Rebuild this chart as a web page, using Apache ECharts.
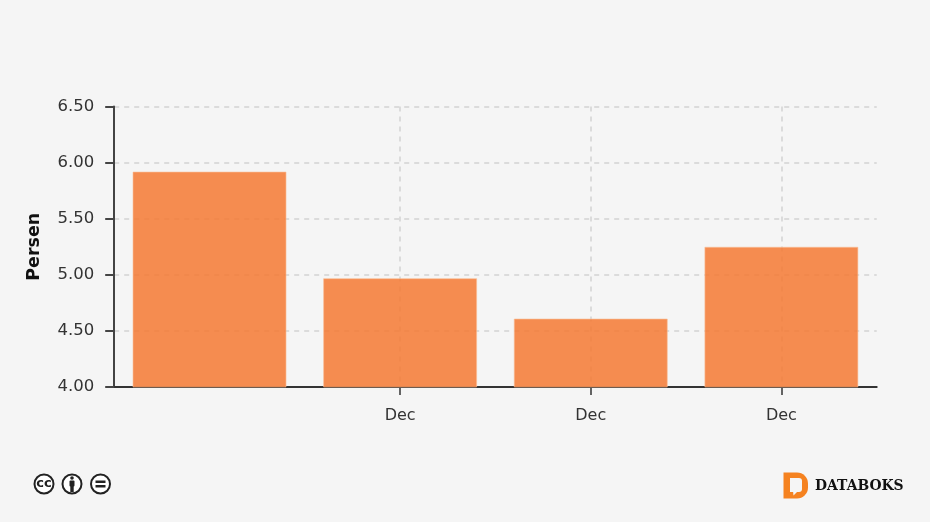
<!DOCTYPE html>
<html><head><meta charset="utf-8">
<style>html,body{margin:0;padding:0;background:#f5f5f5}#c{width:930px;height:522px}</style>
<script src="https://cdn.jsdelivr.net/npm/echarts@6/dist/echarts.min.js"></script>
</head><body><div id="c"></div>
<script>
const categories = ['', 'Dec', 'Dec', 'Dec'];
const values = [5.92, 4.97, 4.61, 5.25];
const yTicks = { min: 4, max: 6.5, interval: 0.5 };
const yName = 'Persen';
const brand = 'DATABOKS';

const dark = '#444444';
const shown = (i) => categories[i] !== '';
const chart = echarts.init(document.getElementById('c'), null, { renderer: 'canvas' });
function ccBadge(cx, cy, inner) {
  return { type: 'group', silent: true, children: [
    { type: 'circle', shape: { cx, cy, r: 9.5 }, style: { fill: '#fff', stroke: '#222', lineWidth: 2 } }
  ].concat(inner) };
}
chart.setOption({
  backgroundColor: '#f5f5f5',
  animation: false,
  grid: { left: 114.2, right: 53.3, top: 106.5, bottom: 135, containLabel: false },
  xAxis: {
    type: 'category',
    data: categories,
    axisLine: { lineStyle: { color: '#333', width: 2 } },
    axisTick: { show: true, alignWithLabel: true, length: 8, lineStyle: { color: '#333', width: 1.5 },
      interval: (i) => shown(i) },
    axisLabel: { interval: 0, margin: 21, color: '#333', fontFamily: 'DejaVu Sans', fontSize: 16 },
    splitLine: { show: true, alignWithLabel: true, interval: (i) => shown(i),
      lineStyle: { color: '#d2d2d2', type: [5, 5], width: 1.5 } }
  },
  yAxis: {
    type: 'value',
    min: yTicks.min, max: yTicks.max, interval: yTicks.interval,
    name: yName, nameLocation: 'middle', nameGap: 71, nameRotate: 90,
    nameTextStyle: { fontFamily: 'DejaVu Sans', fontWeight: 'bold', fontSize: 17.5, color: '#111' },
    axisLine: { show: true, lineStyle: { color: dark, width: 2 } },
    axisTick: { show: true, length: 9, lineStyle: { color: dark, width: 2 } },
    axisLabel: { margin: 20, color: '#333', fontFamily: 'DejaVu Sans', fontSize: 16.5,
      formatter: (v) => v.toFixed(2) },
    splitLine: { show: true, lineStyle: { color: '#d2d2d2', type: [5, 5], width: 1.5 } }
  },
  series: [{
    type: 'bar',
    data: values,
    barWidth: 154,
    itemStyle: { color: 'rgba(245,121,51,0.85)', borderColor: 'rgba(250,190,150,0.6)', borderWidth: 1 }
  }],
  graphic: [
    ccBadge(44, 484, [
      { type: 'text', style: { x: 44, y: 484, text: 'cc', fill: '#222', font: 'bold 13px "DejaVu Sans"', align: 'center', verticalAlign: 'middle' } }
    ]),
    ccBadge(72, 484, [
      { type: 'circle', shape: { cx: 72, cy: 478, r: 1.8 }, style: { fill: '#222' } },
      { type: 'rect', shape: { x: 69.5, y: 480.5, width: 5, height: 6, r: 1 }, style: { fill: '#222' } },
      { type: 'rect', shape: { x: 70.3, y: 485, width: 3.4, height: 7 }, style: { fill: '#222' } }
    ]),
    ccBadge(100.5, 484, [
      { type: 'rect', shape: { x: 95.5, y: 480.5, width: 10, height: 2.5 }, style: { fill: '#222' } },
      { type: 'rect', shape: { x: 95.5, y: 485, width: 10, height: 2.5 }, style: { fill: '#222' } }
    ]),
    { type: 'rect', silent: true, shape: { x: 783.5, y: 472.5, width: 24.5, height: 26, r: [0, 11, 11, 0] }, style: { fill: '#f58220' } },
    { type: 'rect', silent: true, shape: { x: 790, y: 478, width: 12, height: 14, r: [0, 3, 3, 0] }, style: { fill: '#f5f5f5' } },
    { type: 'polygon', silent: true, shape: { points: [[793, 491], [793.5, 495.5], [798, 491]] }, style: { fill: '#f5f5f5' } },
    { type: 'text', silent: true, style: { x: 815, y: 486, text: brand, fill: '#111',
      font: 'bold 13.9px "DejaVu Serif"', verticalAlign: 'middle' } }
  ]
});
</script></body></html>
